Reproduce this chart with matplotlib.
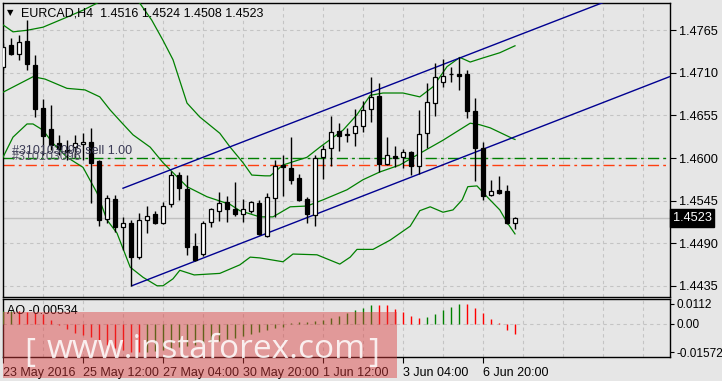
import matplotlib.pyplot as plt
from matplotlib.patches import Rectangle
import numpy as np

W, H = 722, 381

# EURCAD H4 candles, one per bar index
opens = [1.4718, 1.4746, 1.4734, 1.4751, 1.4720, 1.4665, 1.4637, 1.4619, 1.4610, 1.4614,
         1.4618, 1.4621, 1.4596, 1.4521, 1.4547, 1.4511, 1.4516, 1.4472, 1.4520, 1.4528,
         1.4516, 1.4541, 1.4578, 1.4560, 1.4486, 1.4476, 1.4517, 1.4532, 1.4543, 1.4534,
         1.4528, 1.4532, 1.4542, 1.4499, 1.4548, 1.4591, 1.4587, 1.4574, 1.4547, 1.4526,
         1.4601, 1.4613, 1.4635, 1.4631, 1.4632, 1.4641, 1.4663, 1.4680, 1.4592, 1.4603,
         1.4601, 1.4608, 1.4590, 1.4632, 1.4671, 1.4698, 1.4709, 1.4709, 1.4709, 1.4661,
         1.4613, 1.4552, 1.4559, 1.4557, 1.4516]
highs = [1.4749, 1.4755, 1.4759, 1.4778, 1.4733, 1.4676, 1.4668, 1.4630, 1.4623, 1.4630,
         1.4632, 1.4639, 1.4597, 1.4552, 1.4552, 1.4524, 1.4520, 1.4529, 1.4538, 1.4532,
         1.4543, 1.4583, 1.4582, 1.4578, 1.4503, 1.4519, 1.4535, 1.4556, 1.4551, 1.4569,
         1.4547, 1.4544, 1.4546, 1.4555, 1.4597, 1.4604, 1.4627, 1.4579, 1.4550, 1.4604,
         1.4617, 1.4654, 1.4645, 1.4639, 1.4663, 1.4674, 1.4705, 1.4697, 1.4627, 1.4616,
         1.4612, 1.4609, 1.4662, 1.4697, 1.4723, 1.4728, 1.4718, 1.4730, 1.4714, 1.4678,
         1.4621, 1.4572, 1.4577, 1.4565, 1.4524]
lows = [1.4714, 1.4733, 1.4727, 1.4714, 1.4653, 1.4604, 1.4610, 1.4604, 1.4597, 1.4600,
        1.4597, 1.4542, 1.4512, 1.4516, 1.4504, 1.4481, 1.4435, 1.4470, 1.4503, 1.4515,
        1.4515, 1.4537, 1.4546, 1.4475, 1.4467, 1.4473, 1.4511, 1.4519, 1.4517, 1.4525,
        1.4517, 1.4529, 1.4501, 1.4498, 1.4524, 1.4551, 1.4566, 1.4544, 1.4516, 1.4512,
        1.4573, 1.4590, 1.4609, 1.4621, 1.4616, 1.4634, 1.4647, 1.4582, 1.4591, 1.4588,
        1.4587, 1.4578, 1.4579, 1.4613, 1.4654, 1.4692, 1.4698, 1.4688, 1.4652, 1.4570,
        1.4546, 1.4551, 1.4554, 1.4515, 1.4508]
closes = [1.4744, 1.4734, 1.4750, 1.4721, 1.4663, 1.4628, 1.4617, 1.4612, 1.4608, 1.4619,
          1.4621, 1.4594, 1.4520, 1.4548, 1.4511, 1.4516, 1.4472, 1.4520, 1.4525, 1.4516,
          1.4538, 1.4578, 1.4561, 1.4485, 1.4468, 1.4516, 1.4534, 1.4542, 1.4534, 1.4528,
          1.4534, 1.4543, 1.4502, 1.4550, 1.4590, 1.4588, 1.4572, 1.4546, 1.4528, 1.4600,
          1.4612, 1.4634, 1.4628, 1.4630, 1.4641, 1.4662, 1.4679, 1.4592, 1.4604, 1.4600,
          1.4608, 1.4590, 1.4631, 1.4672, 1.4705, 1.4706, 1.4708, 1.4706, 1.4661, 1.4613,
          1.4551, 1.4557, 1.4555, 1.4516, 1.4523]

# Bollinger bands (bar index, price)
bb_up_x = [0, 1.25, 3, 5, 8, 10, 11.75, 13.5, 15.5, 17.1, 18.6, 20, 21.25, 23, 24.6, 27.1,
           28.4, 30, 31.1, 32.75, 33.4, 35, 38, 39.6, 42.5, 44.25, 45.9, 47.5, 50, 52.1,
           53.75, 55.5, 57.1, 58.4, 59.6, 62.1, 64]
bb_up = [1.4772, 1.4763, 1.4765, 1.4769, 1.4782, 1.4791, 1.4800, 1.4812, 1.4812, 1.4800,
         1.4778, 1.4752, 1.4727, 1.4671, 1.4653, 1.4632, 1.4614, 1.4594, 1.4578, 1.4577,
         1.4577, 1.4591, 1.4601, 1.4614, 1.4636, 1.4656, 1.4681, 1.4684, 1.4684, 1.4679,
         1.4692, 1.4718, 1.4730, 1.4724, 1.4728, 1.4736, 1.4745]
bb_mid_x = [0, 3.75, 5.25, 8, 10.25, 12.1, 13.4, 14.9, 16.25, 18.4, 20, 23, 25.5, 28.4, 29.6,
            32.1, 33.75, 35.9, 38, 40, 43, 45, 47.1, 49.6, 52.1, 55, 58.4, 59.6, 60.9, 63.75, 64]
bb_mid = [1.4685, 1.4705, 1.4702, 1.4690, 1.4688, 1.4679, 1.4662, 1.4645, 1.4630, 1.4614,
          1.4594, 1.4563, 1.4550, 1.4540, 1.4532, 1.4524, 1.4524, 1.4537, 1.4538, 1.4546,
          1.4559, 1.4572, 1.4582, 1.4591, 1.4606, 1.4623, 1.4645, 1.4643, 1.4639, 1.4625, 1.4624]
bb_low_x = [0, 1.25, 3, 3.75, 5, 6.25, 8, 10, 11.75, 13, 14.25, 15.9, 17.5, 19.25, 20, 21.25,
            22.1, 23.9, 27.1, 29.6, 30.9, 32.1, 35, 36.25, 39.25, 42.1, 43.4, 44.25, 46.25,
            48.4, 50.9, 52.1, 53.4, 55, 56.25, 57.4, 58.1, 59.25, 60.5, 62.1, 63, 64]
bb_low = [1.4601, 1.4627, 1.4644, 1.4644, 1.4636, 1.4619, 1.4601, 1.4588, 1.4555, 1.4520,
          1.4503, 1.4459, 1.4446, 1.4435, 1.4435, 1.4444, 1.4455, 1.4449, 1.4451, 1.4462,
          1.4472, 1.4471, 1.4466, 1.4476, 1.4475, 1.4463, 1.4472, 1.4482, 1.4482, 1.4494,
          1.4512, 1.4532, 1.4537, 1.4530, 1.4533, 1.4546, 1.4563, 1.4564, 1.4550, 1.4533,
          1.4517, 1.4502]

# trend channel anchors
chan_up_x = [15, 83.3]
chan_up = [1.4561, 1.4834]
chan_low_x = [16.1, 83.3]
chan_low = [1.4435, 1.4705]

sell_level = 1.4600
stop_level = 1.4591
last_price = 1.4523

# Awesome Oscillator
ao = [0.0070, 0.0073, 0.0071, 0.0065, 0.0063, 0.0056, 0.0022, -0.0003, -0.0030, -0.0049,
      -0.0062, -0.0074, -0.0090, -0.0118, -0.0134, -0.0148, -0.0155, -0.01572, -0.0155, -0.0150,
      -0.0145, -0.0138, -0.0130, -0.0126, -0.0120, -0.0112, -0.0103, -0.0094, -0.0085, -0.0076,
      -0.0066, -0.0056, -0.0046, -0.0036, -0.0025, -0.0015, 0.0004, 0.0010, 0.0013, 0.0019,
      0.0022, 0.0032, 0.0045, 0.0063, 0.0078, 0.0090, 0.0108, 0.0107, 0.0104, 0.0084,
      0.0069, 0.0045, 0.0035, 0.0041, 0.0056, 0.0078, 0.0097, 0.0112, 0.0111, 0.0091,
      0.0063, 0.0028, 0.0004, -0.0034, -0.00534]

price_ticks = [1.4435, 1.4490, 1.4545, 1.4600, 1.4655, 1.4710, 1.4765]
time_pos = [0, 10, 20, 30, 40, 50, 60]
time_labels = ["23 May 2016", "25 May 12:00", "27 May 04:00", "30 May 20:00",
               "1 Jun 12:00", "3 Jun 04:00", "6 Jun 20:00"]

plt.rcParams['font.family'] = ['Liberation Sans', 'DejaVu Sans']
bg = '#e6e6e6'
grid_c = '#c4c4c4'


def fx(x):
    return x / W


def fy(y):
    return 1 - y / H


fig = plt.figure(figsize=(W / 100, H / 100), dpi=100, facecolor=bg)
ax = fig.add_axes([fx(2.5), fy(297), fx(669.5) - fx(2.5), fy(2.5) - fy(297)], facecolor=bg)
ax2 = fig.add_axes([fx(2.5), fy(357), fx(669.5) - fx(2.5), fy(299) - fy(357)], facecolor=bg)

xlim = (-0.0625, 83.3125)
for a in (ax, ax2):
    a.set_xlim(*xlim)
    for s in a.spines.values():
        s.set_color('black')
        s.set_linewidth(1)
    for gx in np.arange(0, 84, 5):
        a.axvline(gx, color=grid_c, lw=0.8, ls=(0, (3, 3)), zorder=0)

# main chart
ax.set_ylim(1.44205, 1.48009)
ax.yaxis.tick_right()
ax.set_yticks(price_ticks)
ax.set_yticklabels(['%.4f' % p for p in price_ticks])
ax.tick_params(axis='y', direction='out', length=4, pad=3, labelsize=9.2)
ax.tick_params(axis='x', length=0, labelbottom=False)
ax.set_xticks([])
for p in price_ticks:
    ax.axhline(p, color=grid_c, lw=0.8, ls=(0, (3, 3)), zorder=0)

ax.axhline(last_price, color='#c0c0c0', lw=1, zorder=1)
ax.axhline(sell_level, color='#008000', lw=1, ls=(0, (8, 3, 2, 3)), zorder=2)
ax.axhline(stop_level, color='#ff4010', lw=1, ls=(0, (8, 3, 2, 3)), zorder=2)

ax.plot(bb_up_x, bb_up, color='#008000', lw=0.9, zorder=3)
ax.plot(bb_mid_x, bb_mid, color='#008000', lw=0.9, zorder=3)
ax.plot(bb_low_x, bb_low, color='#008000', lw=0.9, zorder=3)
ax.plot(chan_up_x, chan_up, color='#000090', lw=1, zorder=3)
ax.plot(chan_low_x, chan_low, color='#000090', lw=1, zorder=3)

idx = np.arange(len(opens))
o = np.array(opens)
c = np.array(closes)
ax.vlines(idx, lows, highs, color='black', lw=1, zorder=4)
body_low = np.minimum(o, c)
body_h = np.maximum(np.abs(c - o), 0.00002)
fills = ['white' if cc >= oo else 'black' for oo, cc in zip(o, c)]
ax.bar(idx, body_h, bottom=body_low, width=0.62, color=fills, edgecolor='black',
       linewidth=0.9, zorder=5)

# AO panel
ax2.set_ylim(-0.0185, 0.0140)
ax2.yaxis.tick_right()
ax2.set_yticks([0.0112, 0.0, -0.01572])
ax2.set_yticklabels(['0.0112', '0.00', '-0.01572'])
ax2.tick_params(axis='y', direction='out', length=3, pad=2, labelsize=8.5)
ax2.axhline(0, color=grid_c, lw=0.8, ls=(0, (3, 3)), zorder=0)
ao_arr = np.array(ao)
ao_cols = ['#008000'] + ['#008000' if ao_arr[i] > ao_arr[i - 1] else '#ff0000'
                         for i in range(1, len(ao_arr))]
ax2.vlines(np.arange(len(ao)), 0, ao, colors=ao_cols, lw=1, zorder=3)
ax2.set_xticks(time_pos)
ax2.set_xticklabels(time_labels)
ax2.tick_params(axis='x', direction='out', length=4, pad=3, labelsize=9)
for lab in ax2.get_xticklabels():
    lab.set_horizontalalignment('left')

# texts
fig.text(fx(7), fy(12.5), '\u25bc', fontsize=6, family='DejaVu Sans', va='center')
fig.text(fx(21), fy(13), 'EURCAD,H4  1.4516 1.4524 1.4508 1.4523', fontsize=9, va='center')
fig.text(fx(12), fy(157), '#310103096', fontsize=9, va='center', color='#555566')
fig.text(fx(12), fy(151), '#310103096 sell 1.00', fontsize=9, va='center', color='#3a3a55')
fig.text(fx(7), fy(311), 'AO -0.00534', fontsize=9, va='center')
fig.text(fx(673), fy(218), '1.4523', fontsize=9.2, va='center', color='white',
         bbox=dict(boxstyle='square,pad=0.2', fc='black', ec='black'))

# watermark
fig.add_artist(Rectangle((fx(3), fy(378)), fx(397) - fx(3), fy(312) - fy(378),
                         transform=fig.transFigure, facecolor='#dc3c3c', alpha=0.45,
                         edgecolor='none', zorder=10))
wm = dict(color='white', alpha=0.85, va='baseline', family='Open Sans', zorder=11)
fig.text(fx(24), fy(362), '[', fontsize=24, **wm)
fig.text(fx(206), fy(358), 'www.instaforex.com', fontsize=24, ha='center', **wm)
fig.text(fx(368), fy(362), ']', fontsize=24, **wm)

fig.savefig('out.png', dpi=100, facecolor=bg)
